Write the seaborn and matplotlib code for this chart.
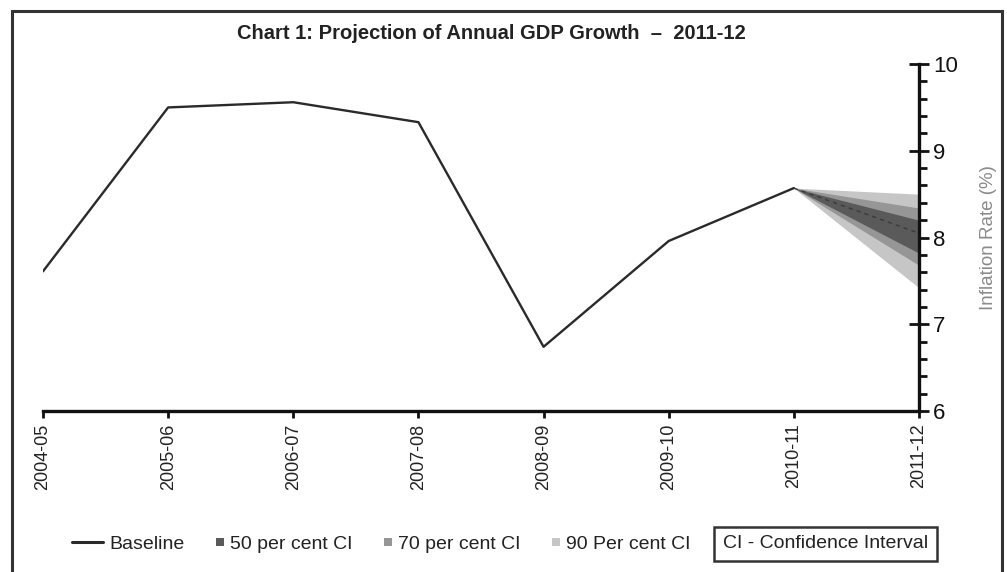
import matplotlib
matplotlib.use("Agg")
import matplotlib.pyplot as plt
from matplotlib.lines import Line2D
from matplotlib.patches import Patch, Rectangle
from matplotlib.legend_handler import HandlerPatch
from matplotlib.ticker import MultipleLocator
import seaborn as sns
import pandas as pd

# Fiscal years on the category axis
years = ["2004-05", "2005-06", "2006-07", "2007-08",
         "2008-09", "2009-10", "2010-11", "2011-12"]

# Actual growth path (%)
baseline = [7.61, 9.50, 9.56, 9.33, 6.74, 7.96, 8.57]

# Projection for 2011-12: central value and band limits
projection_centre = 8.05
ci50 = (7.82, 8.20)
ci70 = (7.68, 8.34)
ci90 = (7.42, 8.50)

sns.set_theme(style="white")
plt.rcParams["font.family"] = ["Liberation Sans", "DejaVu Sans"]

fig = plt.figure(figsize=(10.07, 5.72), dpi=100)
ax = fig.add_axes([0.0427, 0.2815, 0.8699, 0.6065])

df = pd.DataFrame({"pos": range(len(baseline)), "growth": baseline})
sns.lineplot(data=df, x="pos", y="growth", ax=ax, color="#2a2a2a", linewidth=1.7)

# Fan chart: nested confidence bands from last actual to the projection year
x0, x1 = len(baseline) - 1, len(baseline)
start = baseline[-1]
band_colors = {"90": "#c6c6c6", "70": "#969696", "50": "#5a5a5a"}
for key, (lo, hi) in (("90", ci90), ("70", ci70), ("50", ci50)):
    ax.fill_between([x0, x1], [start, lo], [start, hi],
                    color=band_colors[key], linewidth=0)
ax.plot([x0, x1], [start, projection_centre], color="#3a3a3a",
        linestyle=(0, (3, 3)), linewidth=1.0)

ax.set_xlim(0, len(years) - 1)
ax.set_ylim(6, 10)
ax.set_xticks(range(len(years)))
ax.set_xticklabels(years, rotation=90, fontsize=13, color="#222222")
ax.set_xlabel("")

ax.yaxis.tick_right()
ax.yaxis.set_label_position("right")
ax.set_yticks([6, 7, 8, 9, 10])
ax.yaxis.set_minor_locator(MultipleLocator(0.2))
ax.tick_params(axis="y", which="major", direction="inout", length=14, width=2,
               labelsize=16, color="#111111", labelcolor="#111111", pad=3)
ax.tick_params(axis="y", which="minor", direction="out", length=6, width=2,
               color="#111111", right=True, left=False)
ax.tick_params(axis="x", which="major", direction="out", length=5, width=2,
               color="#111111", bottom=True, pad=4)
ax.set_ylabel("Inflation Rate (%)", fontsize=13.5, color="#8a8a8a", labelpad=16)

for side in ("top", "left"):
    ax.spines[side].set_visible(False)
for side in ("bottom", "right"):
    ax.spines[side].set_visible(True)
    ax.spines[side].set_linewidth(2.4)
    ax.spines[side].set_color("#111111")

fig.text(0.488, 0.942, "Chart 1: Projection of Annual GDP Growth  \u2013  2011-12",
         ha="center", va="center", fontsize=14.5, fontweight="bold", color="#222222")


def small_square(legend, orig_handle, xdescent, ydescent, width, height, fontsize):
    """Small square swatch sitting at the right end of the handle box."""
    s = 0.42 * fontsize
    return Rectangle((-xdescent + width - s, -ydescent + (height - s) / 2), s, s)


# Legend row
handles = [
    Line2D([0], [0], color="#2a2a2a", linewidth=2.2),
    Patch(facecolor=band_colors["50"], edgecolor="none"),
    Patch(facecolor=band_colors["70"], edgecolor="none"),
    Patch(facecolor=band_colors["90"], edgecolor="none"),
]
labels = ["Baseline", "50 per cent CI", "70 per cent CI", "90 Per cent CI"]
fig.legend(handles, labels, loc="center left", bbox_to_anchor=(0.0715, 0.049), ncol=4,
           frameon=False, fontsize=14, handlelength=1.6, handletextpad=0.3,
           columnspacing=0.45, borderpad=0, borderaxespad=0, labelcolor="#222222",
           handler_map={Patch: HandlerPatch(patch_func=small_square)})
fig.text(0.8195, 0.049, "CI - Confidence Interval", ha="center", va="center",
         fontsize=14, color="#222222",
         bbox=dict(boxstyle="square,pad=0.45", facecolor="white",
                   edgecolor="#333333", linewidth=1.8))

# Outer border of the chart
fig.patches.append(Rectangle((0.0119, -0.05), 0.9831, 1.031, transform=fig.transFigure,
                             fill=False, edgecolor="#333333", linewidth=2.2))

fig.savefig("out.png", dpi=100)
